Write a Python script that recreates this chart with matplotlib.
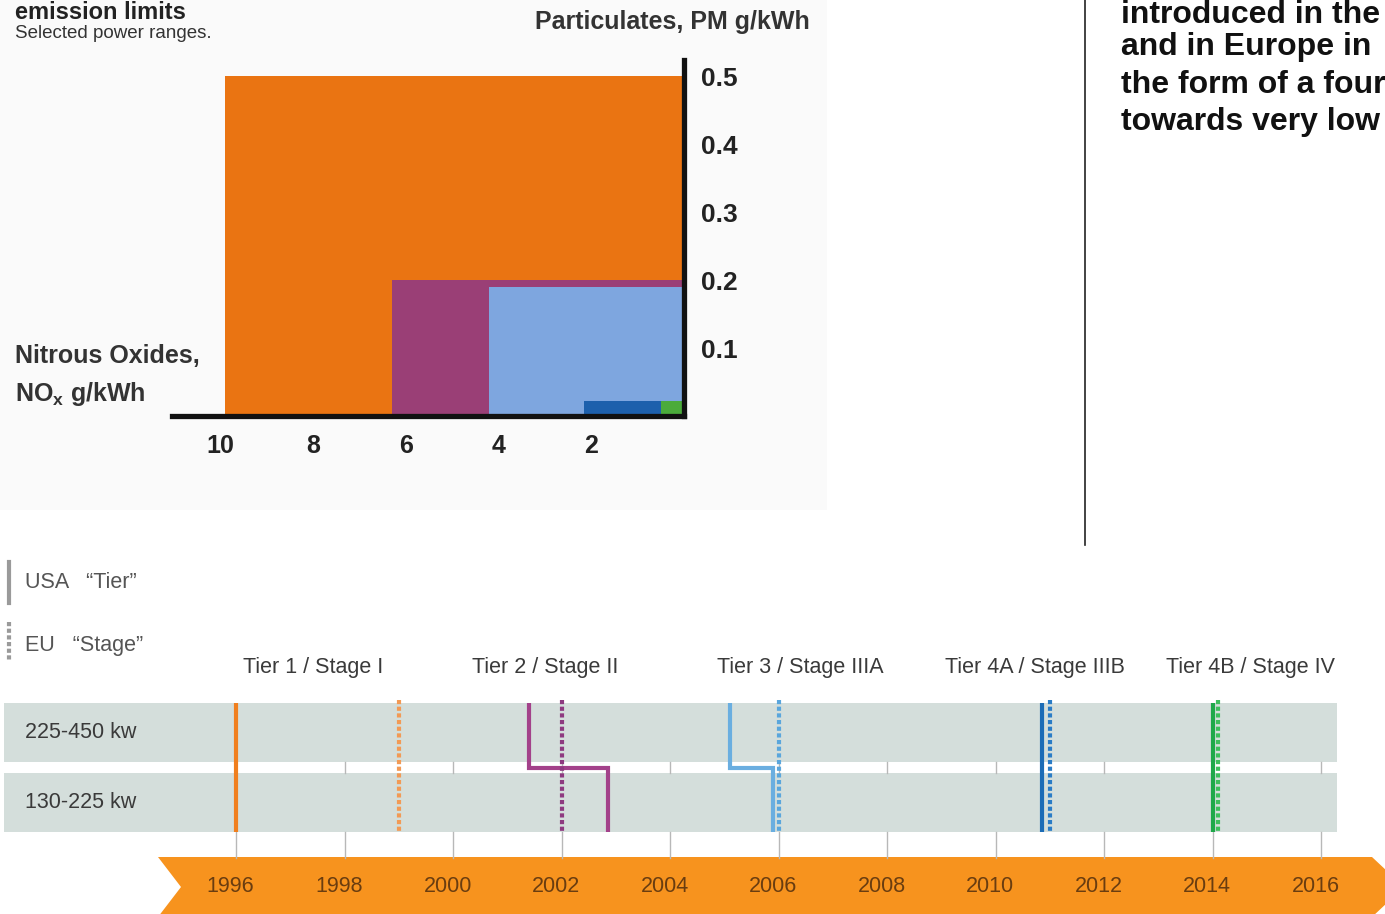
import matplotlib
matplotlib.use('Agg')
import matplotlib.pyplot as plt
from matplotlib.patches import Rectangle, Polygon, ConnectionPatch
from matplotlib.lines import Line2D

plt.rcParams['font.family'] = ['Liberation Sans', 'DejaVu Sans']
plt.rcParams['mathtext.fontset'] = 'custom'
plt.rcParams['mathtext.rm'] = 'Liberation Sans'
plt.rcParams['mathtext.bf'] = 'Liberation Sans:bold'

W, H = 1385, 914

# Emission limit boxes (top chart).
tier_names = ['Tier 1 / Stage I', 'Tier 2 / Stage II', 'Tier 3 / Stage IIIA',
              'Tier 4A / Stage IIIB', 'Tier 4B / Stage IV']
nox_limit = [9.9, 6.3, 4.2, 2.15, 0.5]
pm_limit = [0.5, 0.2, 0.19, 0.022, 0.022]
nox_ticks = [10, 8, 6, 4, 2]
pm_ticks = [0.1, 0.2, 0.3, 0.4, 0.5]
leader_nox = [9.0, 5.5, 3.2, 1.5, 0.35]

# Timeline: year each tier/stage starts.
power_ranges = ['225-450 kw', '130-225 kw']
usa_year_high = [1996.0, 2001.4, 2005.1, 2010.85, 2014.0]
usa_year_low = [1996.0, 2002.85, 2005.9, 2010.85, 2014.0]
eu_year = [1999.0, 2002.0, 2006.0, 2011.0, 2014.1]
years = list(range(1996, 2017, 2))

box_colors = ['#ea7412', '#9a3f76', '#7ea6df', '#1d60ac', '#4bab3b']
usa_colors = ['#f07f1e', '#a3418a', '#6aaee0', '#1c6cb6', '#1fa84a']
eu_colors = ['#f29a55', '#8e3a80', '#5aa6dc', '#2a7cc6', '#3cbf5c']


def fx(px):
    return px / W


def fy(py):
    return 1 - py / H


fig = plt.figure(figsize=(W / 100, H / 100), dpi=100)
fig.patches.append(Rectangle((0, fy(510)), fx(827), 1 - fy(510), transform=fig.transFigure,
                             facecolor='#fafafa', edgecolor='none', zorder=-10))

# ---- top chart: NOx vs PM limits ----
PX_NOX = 46.4      # pixels per g/kWh NOx
PX_PM = 680.0      # pixels per g/kWh PM
ax = fig.add_axes([fx(172), fy(416), fx(684 - 172), (416 - 60) / H])
ax.set_xlim((684 - 172) / PX_NOX, 0)
ax.set_ylim(0, (416 - 60) / PX_PM)
ax.patch.set_alpha(0)
for i in range(len(tier_names)):
    ax.bar(0, pm_limit[i], width=nox_limit[i], align='edge', color=box_colors[i],
           linewidth=0, zorder=2 + i)
for side in ['left', 'top']:
    ax.spines[side].set_visible(False)
for side in ['right', 'bottom']:
    ax.spines[side].set_linewidth(3.8)
    ax.spines[side].set_color('#111111')
    ax.spines[side].set_capstyle('projecting')
    ax.spines[side].set_zorder(10)
ax.yaxis.tick_right()
ax.set_yticks(pm_ticks)
ax.set_yticklabels([f'{v:.1f}' for v in pm_ticks], fontsize=19, fontweight='bold', color='#222222')
ax.set_xticks(nox_ticks)
ax.set_xticklabels([str(v) for v in nox_ticks], fontsize=18, fontweight='bold', color='#222222')
ax.tick_params(axis='y', length=0, pad=12)
ax.tick_params(axis='x', length=0, pad=13)

fig.text(fx(535), fy(22), 'Particulates, PM g/kWh', fontsize=18, fontweight='bold',
         color='#333333', va='center', ha='left')
fig.text(fx(15), fy(356), 'Nitrous Oxides,', fontsize=18, fontweight='bold',
         color='#333333', va='center', ha='left')
fig.text(fx(15), fy(394), r'NO$_\mathbf{x}$ g/kWh', fontsize=18, fontweight='bold',
         color='#333333', va='center', ha='left')
fig.text(fx(15), fy(19), 'emission limits', fontsize=17, fontweight='bold',
         color='#222222', va='baseline', ha='left')
fig.text(fx(15), fy(38), 'Selected power ranges.', fontsize=13.5, color='#333333',
         va='baseline', ha='left')

# right-hand text block (runs off the right edge like the source)
right_lines = ['introduced in the', 'and in Europe in', 'the form of a four', 'towards very low']
right_base = [23, 55, 93, 130]
for line, base in zip(right_lines, right_base):
    fig.text(fx(1121), fy(base), line, fontsize=23, fontweight='bold',
             color='#111111', va='baseline', ha='left')
fig.lines.append(Line2D([fx(1085), fx(1085)], [fy(0), fy(545)], transform=fig.transFigure,
                        color='#222222', lw=1.2))

# ---- tier labels and leader lines ----
label_left = [243, 472, 717, 945, 1166]
leader_end = [266, 483, 722, 938, 1153]
for i, name in enumerate(tier_names):
    fig.text(fx(label_left[i]), fy(667), name, fontsize=15.5, color='#3a3a3a',
             va='center', ha='left')
    con = ConnectionPatch(xyA=(leader_nox[i], -0.016), coordsA='data', axesA=ax,
                          xyB=(leader_end[i], H - 643), coordsB='figure pixels',
                          color='#555555', lw=0.8)
    fig.add_artist(con)

# legend
fig.lines.append(Line2D([fx(9), fx(9)], [fy(562), fy(603)], transform=fig.transFigure,
                        color='#9a9a9a', lw=3))
fig.lines.append(Line2D([fx(9), fx(9)], [fy(622), fy(662)], transform=fig.transFigure,
                        color='#9a9a9a', lw=3, ls=(0, (1, 0.6))))
fig.text(fx(25), fy(582), 'USA   \u201cTier\u201d', fontsize=15.5, color='#555555', va='center')
fig.text(fx(25), fy(645), 'EU   \u201cStage\u201d', fontsize=15.5, color='#555555', va='center')

# ---- timeline ----
PX_YEAR = 54.25
X0_YEAR = 1996 - 236 / PX_YEAR
tl = fig.add_axes([0, 0, 1, 224 / H])
tl.set_xlim(X0_YEAR, X0_YEAR + W / PX_YEAR)
tl.set_ylim(914, 690)
tl.axis('off')
tl.patch.set_alpha(0)

band_left = X0_YEAR + 4 / PX_YEAR
band_right = X0_YEAR + 1337 / PX_YEAR
row_centers = [732.5, 802.5]
for r, label in enumerate(power_ranges):
    tl.barh(row_centers[r], band_right - band_left, left=band_left, height=59,
            color='#d4dedb', linewidth=0, zorder=1)
    fig.text(fx(25), fy(row_centers[r]), label, fontsize=15.5, color='#3a3a3a', va='center')

for yr in years:
    tl.plot([yr, yr], [762, 773], color='#b8b8b8', lw=1, zorder=1)
    tl.plot([yr, yr], [832, 858], color='#b8b8b8', lw=1, zorder=1)

for i in range(len(tier_names)):
    hi, lo = usa_year_high[i], usa_year_low[i]
    if hi == lo:
        tl.plot([hi, hi], [703, 832], color=usa_colors[i], lw=3, zorder=3,
                solid_capstyle='butt')
    else:
        tl.plot([hi, hi, lo, lo], [703, 768, 768, 832], color=usa_colors[i], lw=3,
                zorder=3, solid_capstyle='butt', solid_joinstyle='miter')
    tl.plot([eu_year[i], eu_year[i]], [700, 833], color=eu_colors[i], lw=3,
            ls=(0, (1, 0.6)), zorder=4)

# orange year arrow, drawn under the timeline axes
banner = Polygon([(fx(158), fy(857)), (fx(1372), fy(857)), (fx(1404), fy(887)),
                  (fx(1372), fy(917)), (fx(158), fy(917)), (fx(181), fy(887))],
                 closed=True, transform=fig.transFigure, facecolor='#f7931e',
                 edgecolor='none', zorder=-5)
fig.patches.append(banner)
for yr in years:
    tl.text(yr - 0.1, 886, str(yr), ha='center', va='center', fontsize=15.5,
            color='#6a3d10', zorder=5)

fig.savefig('out.png', dpi=100)
